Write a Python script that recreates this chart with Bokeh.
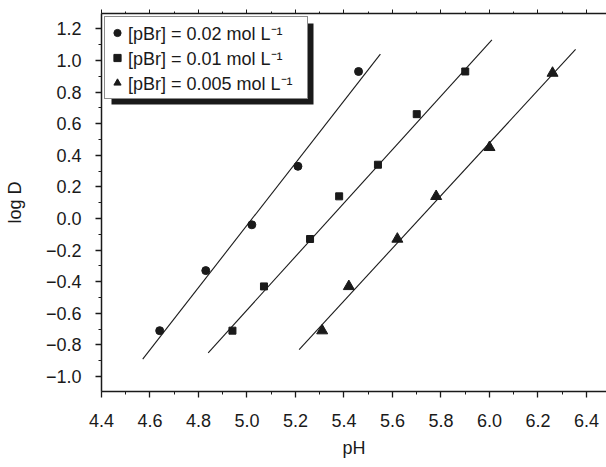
from bokeh.plotting import figure
from bokeh.models import (Range1d, LinearAxis, Legend, LegendItem, FixedTicker,
                          CustomJSTickFormatter, BoxAnnotation)
from bokeh.embed import file_html
from bokeh.resources import INLINE

# Distribution ratio vs pH for three bromide levels
ph_002 = [4.64, 4.83, 5.02, 5.21, 5.46]
logd_002 = [-0.71, -0.33, -0.04, 0.33, 0.93]

ph_001 = [4.94, 5.07, 5.26, 5.38, 5.54, 5.70, 5.90]
logd_001 = [-0.71, -0.43, -0.13, 0.14, 0.34, 0.66, 0.93]

ph_0005 = [5.31, 5.42, 5.62, 5.78, 6.00, 6.26]
logd_0005 = [-0.71, -0.43, -0.13, 0.14, 0.45, 0.92]

# Fitted straight lines (end points)
fit_002_ph = [4.57, 5.55]
fit_002_logd = [-0.89, 1.04]
fit_001_ph = [4.84, 6.01]
fit_001_logd = [-0.85, 1.13]
fit_0005_ph = [5.215, 6.355]
fit_0005_logd = [-0.83, 1.07]

labels = ["[pBr] = 0.02 mol L\u207b\u00b9",
          "[pBr] = 0.01 mol L\u207b\u00b9",
          "[pBr] = 0.005 mol L\u207b\u00b9"]

x_major = [4.4, 4.6, 4.8, 5.0, 5.2, 5.4, 5.6, 5.8, 6.0, 6.2, 6.4]
x_minor = [round(4.3 + 0.1 * i, 1) for i in range(23)]
y_major = [-1.0, -0.8, -0.6, -0.4, -0.2, 0.0, 0.2, 0.4, 0.6, 0.8, 1.0, 1.2]
y_minor = [round(-1.1 + 0.1 * i, 1) for i in range(25)]

FONT = "Liberation Sans"
INK = "#1a1a1a"
W, H = 606, 467

p = figure(width=W, height=H, output_backend="svg", toolbar_location=None,
           x_range=Range1d(4.4, 6.4825), y_range=Range1d(-1.095, 1.297),
           min_border_left=101, min_border_right=0, min_border_top=13,
           min_border_bottom=76)
p.outline_line_color = None
p.grid.visible = False
p.background_fill_color = "white"
p.border_fill_color = "white"

fmt = CustomJSTickFormatter(code="return (tick < -1e-9 ? '\\u2212' : '') + Math.abs(tick).toFixed(1);")

for ax, major, minor in [(p.xaxis[0], x_major, x_minor), (p.yaxis[0], y_major, y_minor)]:
    ax.ticker = FixedTicker(ticks=major, minor_ticks=minor)
    ax.formatter = fmt
    ax.axis_line_color = INK
    ax.axis_line_width = 1.5
    ax.major_tick_line_color = INK
    ax.minor_tick_line_color = INK
    ax.major_tick_line_width = 1.3
    ax.minor_tick_line_width = 1.0
    ax.major_tick_in = 0
    ax.minor_tick_in = 0
    ax.major_tick_out = 6
    ax.minor_tick_out = 3
    ax.major_label_text_font = FONT
    ax.major_label_text_font_size = "18px"
    ax.major_label_text_color = INK
    ax.axis_label_text_font = FONT
    ax.axis_label_text_font_size = "18px"
    ax.axis_label_text_font_style = "normal"
    ax.axis_label_text_color = INK

p.xaxis.axis_label = "pH"
p.xaxis.major_label_standoff = 16
p.xaxis.axis_label_standoff = 8
p.yaxis.axis_label = "log D"
p.yaxis.major_label_standoff = 14
p.yaxis.axis_label_standoff = 18

# top frame edge with outward ticks, no labels
top = LinearAxis(ticker=FixedTicker(ticks=x_major, minor_ticks=x_minor),
                 formatter=CustomJSTickFormatter(code="return '';"),
                 major_label_standoff=0,
                 axis_line_color=INK, axis_line_width=1.5,
                 major_tick_line_color=INK, minor_tick_line_color=INK,
                 major_tick_in=0, minor_tick_in=0, major_tick_out=4, minor_tick_out=2)
p.add_layout(top, "above")

for fx, fy in [(fit_002_ph, fit_002_logd), (fit_001_ph, fit_001_logd), (fit_0005_ph, fit_0005_logd)]:
    p.line(fx, fy, line_color=INK, line_width=1.1)

r1 = p.scatter(ph_002, logd_002, marker="circle", size=8, fill_color=INK, line_color=INK)
r2 = p.scatter(ph_001, logd_001, marker="square", size=7, fill_color=INK, line_color=INK)
r3 = p.scatter(ph_0005, logd_0005, marker="triangle", size=11, fill_color=INK, line_color=INK)

# legend geometry (pixels)
PAD, GLYPH_W, ROW_H, STANDOFF, LABEL_W, MARGIN, SHADOW = 3, 18, 25, 2, 176, 3, 7
box_w = 2 * PAD + GLYPH_W + STANDOFF + LABEL_W
box_h = 2 * PAD + 3 * ROW_H
frame_h = 378

# drop shadow behind the legend box
p.add_layout(BoxAnnotation(left=MARGIN + SHADOW, right=MARGIN + SHADOW + box_w,
                           top=frame_h - MARGIN - SHADOW,
                           bottom=frame_h - MARGIN - SHADOW - box_h,
                           left_units="screen", right_units="screen",
                           top_units="screen", bottom_units="screen",
                           fill_color=INK, fill_alpha=1, line_color=None))

legend = Legend(items=[LegendItem(label=labels[0], renderers=[r1]),
                       LegendItem(label=labels[1], renderers=[r2]),
                       LegendItem(label=labels[2], renderers=[r3])],
                location="top_left", margin=MARGIN)
legend.label_text_font = FONT
legend.label_text_font_size = "18px"
legend.label_text_color = INK
legend.padding = PAD
legend.spacing = 0
legend.label_height = ROW_H
legend.glyph_height = ROW_H
legend.glyph_width = GLYPH_W
legend.label_width = LABEL_W
legend.label_standoff = STANDOFF
legend.border_line_color = INK
legend.border_line_width = 1.2
legend.background_fill_color = "white"
legend.background_fill_alpha = 1
p.add_layout(legend, "center")

open("out.html", "w").write(file_html(p, INLINE))
